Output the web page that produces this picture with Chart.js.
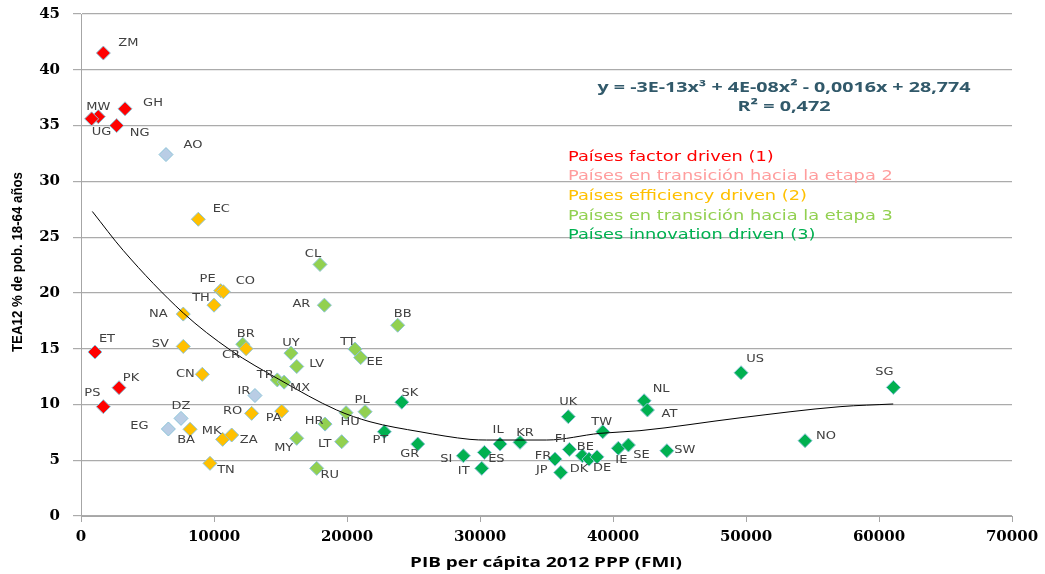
<!DOCTYPE html>
<html>
<head>
<meta charset="utf-8">
<script src="https://cdn.jsdelivr.net/npm/chart.js@4.4.1/dist/chart.umd.min.js"></script>
<style>
  body { margin: 0; background: #fff; }
  #wrap { width: 1045px; height: 574px; }
</style>
</head>
<body>
<div id="wrap"><canvas id="tea" width="1045" height="574"></canvas></div>
<script>
// Países factor driven (1)
var factorCodes = ['ZM', 'MW', 'UG', 'GH', 'NG', 'ET', 'PK', 'PS'];
var factorGdp = [1680, 1300, 800, 3310, 2680, 1050, 2860, 1680];
var factorTea = [41.5, 35.8, 35.6, 36.5, 35.0, 14.7, 11.5, 9.8];

// en transición hacia la etapa 2
var trans2Codes = ['AO', 'IR', 'DZ', 'EG'];
var trans2Gdp = [6390, 13080, 7520, 6570];
var trans2Tea = [32.4, 10.8, 8.75, 7.8];

// efficiency driven (2)
var effCodes = ['EC', 'PE', 'CO', 'TH', 'NA', 'SV', 'CR', 'CN', 'RO', 'PA', 'BA', 'MK', 'ZA', 'TN'];
var effGdp = [8820, 10500, 10700, 10000, 7690, 7690, 12410, 9120, 12830, 15090, 8200, 10650, 11330, 9700];
var effTea = [26.6, 20.2, 20.1, 18.9, 18.1, 15.2, 15.0, 12.7, 9.2, 9.4, 7.77, 6.87, 7.26, 4.72];

// en transición hacia la etapa 3
var trans3Codes = ['CL', 'AR', 'BB', 'BR', 'UY', 'TT', 'EE', 'LV', 'TR', 'MX', 'PL', 'HU', 'HR', 'MY', 'LT', 'RU'];
var trans3Gdp = [17970, 18300, 23810, 12160, 15790, 20600, 21030, 16220, 14760, 15270, 21360, 19930, 18350, 16220, 19600, 17720];
var trans3Tea = [22.55, 18.9, 17.1, 15.4, 14.6, 14.96, 14.2, 13.4, 12.2, 12.0, 9.35, 9.26, 8.24, 6.96, 6.66, 4.27];

// innovation driven (3)
var innovCodes = ['SK', 'PT', 'GR', 'SI', 'ES', 'IT', 'IL', 'KR', 'UK', 'FI', 'FR', 'JP', 'BE', 'DK', 'DE', 'TW', 'IE', 'SE', 'NL', 'AT', 'SW', 'US', 'SG', 'NO'];
var innovGdp = [24120, 22810, 25320, 28750, 30330, 30130, 31510, 33010, 36640, 36720, 35640, 36070, 37700, 38200, 38800, 39230, 40400, 41160, 42340, 42590, 44050, 49630, 61080, 54440];
var innovTea = [10.2, 7.55, 6.45, 5.4, 5.7, 4.27, 6.45, 6.6, 8.9, 5.97, 5.1, 3.9, 5.4, 5.1, 5.3, 7.55, 6.07, 6.36, 10.33, 9.5, 5.85, 12.84, 11.53, 6.75];

// polynomial trend line
var trendGdp = [850, 3180, 7690, 11200, 14960, 19220, 21730, 25490, 29250, 30500, 35010, 39020, 42030, 49550, 57070, 61070];
var trendTea = [27.3, 23.8, 18.2, 14.9, 12.2, 9.5, 8.45, 7.55, 6.87, 6.81, 6.81, 7.41, 7.65, 8.8, 9.8, 10.04];

var legendLines = ['Países factor driven (1)', 'Países en transición hacia la etapa 2', 'Países efficiency driven (2)',
  'Países en transición hacia la etapa 3', 'Países innovation driven (3)'];
var legendColors = ['#FF0000', '#FF9D9D', '#FFC000', '#92D050', '#00B050'];
var eqLine = 'y = -3E-13x³ + 4E-08x² - 0,0016x + 28,774';
var r2Line = 'R² = 0,472';
var xTitle = 'PIB per cápita 2012 PPP (FMI)';
var yTitle = 'TEA12 % de pob. 18-64 años';

// label offsets (px) from the marker centre
var labelOff = {
  ZM: [25, -10], MW: [0, -9], UG: [10, 14], GH: [28, -5], NG: [23, 8], ET: [12, -13], PK: [12, -9], PS: [-11, -13],
  AO: [27, -9], IR: [-11, -4], DZ: [0, -12], EG: [-29, -3],
  EC: [23, -10], PE: [-13, -11], CO: [22, -10], TH: [-13, -7], NA: [-25, 0], SV: [-23, -2], CR: [-15, 7], CN: [-17, 0],
  RO: [-19, -2], PA: [-8, 7], BA: [-4, 11], MK: [-11, -8], ZA: [17, 5], TN: [16, 7],
  CL: [-7, -10], AR: [-23, -1], BB: [5, -11], BR: [3, -10], UY: [0, -10], TT: [-7, -7], EE: [14, 5], LV: [20, -2],
  TR: [-12, -4], MX: [16, 6], PL: [-3, -11], HU: [4, 10], HR: [-11, -3], MY: [-13, 10], LT: [-17, 3], RU: [13, 7],
  SK: [8, -9], PT: [-4, 9], GR: [-8, 10], SI: [-17, 4], ES: [12, 7], IT: [-18, 3], IL: [-2, -14], KR: [5, -9],
  UK: [0, -14], FI: [-9, -10], FR: [-12, -3], JP: [-19, -2], BE: [3, -8], DK: [-10, 10], DE: [5, 12], TW: [-1, -9],
  IE: [3, 12], SE: [13, 10], NL: [17, -11], AT: [22, 4], SW: [18, 0], US: [14, -13], SG: [-9, -15], NO: [21, -4]
};

function pts(xs, ys) {
  var out = [];
  for (var i = 0; i < xs.length; i++) out.push({ x: xs[i], y: ys[i] });
  return out;
}

function group(codes, xs, ys, fill) {
  return {
    type: 'scatter',
    data: pts(xs, ys),
    codes: codes,
    pointStyle: 'rectRot',
    pointRadius: 7,
    pointHoverRadius: 7,
    backgroundColor: fill,
    borderColor: '#8CC4D8',
    borderWidth: 1,
    order: 1
  };
}

// text helper, the original picture is a bit wide
// sx = horizontal stretch, or if fitW is given stretch to that width
function wideText(ctx, str, x, y, font, color, align, sx, fitW, rot) {
  ctx.save();
  ctx.font = font;
  ctx.fillStyle = color;
  ctx.textBaseline = 'middle';
  ctx.textAlign = align;
  if (fitW) sx = fitW / ctx.measureText(str).width;
  ctx.translate(x, y);
  if (rot) ctx.rotate(rot);
  ctx.scale(sx, 1);
  ctx.fillText(str, 0, 0);
  ctx.restore();
}

var extras = {
  id: 'extras',
  beforeDraw: function(chart) {
    var c = chart.ctx;
    c.save();
    c.fillStyle = '#fff';
    c.fillRect(0, 0, chart.width, chart.height);
    c.restore();
  },
  afterDatasetsDraw: function(chart) {
    var c = chart.ctx;
    chart.data.datasets.forEach(function(ds, di) {
      if (!ds.codes) return;
      var meta = chart.getDatasetMeta(di);
      meta.data.forEach(function(el, i) {
        var code = ds.codes[i];
        var off = labelOff[code] || [0, -12];
        wideText(c, code, el.x + off[0], el.y + off[1], '10px "DejaVu Sans"', '#404040', 'center', 1.3);
      });
    });
    // equation of the trend
    wideText(c, eqLine, 784, 88, 'bold 15px "Open Sans"', '#31596A', 'center', 1, 373);
    wideText(c, r2Line, 784, 107, 'bold 15px "Open Sans"', '#31596A', 'center', 1, 93);
    // group texts
    for (var k = 0; k < legendLines.length; k++) {
      wideText(c, legendLines[k], 568, 157 + k * 19.7, '14px "DejaVu Sans"', legendColors[k], 'left', 1.27);
    }
    // axis titles
    wideText(c, xTitle, 546, 563, 'bold 15px "Open Sans"', '#000', 'center', 1, 272);
    wideText(c, yTitle, 18, 262, 'bold 14px "Liberation Sans"', '#000', 'center', 1, 180, -Math.PI / 2);
  }
};

function plain(v) { return String(v); }

var ctx = document.getElementById('tea').getContext('2d');
var chart = new Chart(ctx, {
  type: 'scatter',
  data: {
    datasets: [
      {
        type: 'line',
        data: pts(trendGdp, trendTea),
        borderColor: '#000',
        borderWidth: 1,
        pointRadius: 0,
        cubicInterpolationMode: 'monotone',
        fill: false,
        order: 0
      },
      group(factorCodes, factorGdp, factorTea, '#FF0000'),
      group(trans2Codes, trans2Gdp, trans2Tea, '#B9CDE5'),
      group(effCodes, effGdp, effTea, '#FFC000'),
      group(trans3Codes, trans3Gdp, trans3Tea, '#92D050'),
      group(innovCodes, innovGdp, innovTea, '#00B050')
    ]
  },
  options: {
    responsive: false,
    animation: false,
    events: [],
    layout: { padding: { top: 14, right: 33, left: 0, bottom: 0 } },
    plugins: { legend: { display: false }, tooltip: { enabled: false } },
    scales: {
      x: {
        type: 'linear',
        min: 0,
        max: 70000,
        ticks: { stepSize: 10000, padding: 6, color: '#000', callback: plain,
          font: { family: 'DejaVu Serif', size: 15, weight: 'bold' } },
        grid: { drawOnChartArea: false, drawTicks: true, tickLength: 6, color: '#A6A6A6' },
        border: { color: '#A6A6A6', width: 1 },
        afterFit: function(s) { s.height = 58; }
      },
      y: {
        min: 0,
        max: 45,
        ticks: { stepSize: 5, padding: 13, color: '#000', callback: plain,
          font: { family: 'DejaVu Serif', size: 15, weight: 'bold' } },
        grid: { color: '#ABABAB', lineWidth: 1.2, tickLength: 8 },
        border: { color: '#A6A6A6', width: 1 },
        afterFit: function(s) { s.width = 81; s.paddingTop = 0; s.paddingBottom = 0; }
      }
    }
  },
  plugins: [extras]
});
</script>
</body>
</html>
